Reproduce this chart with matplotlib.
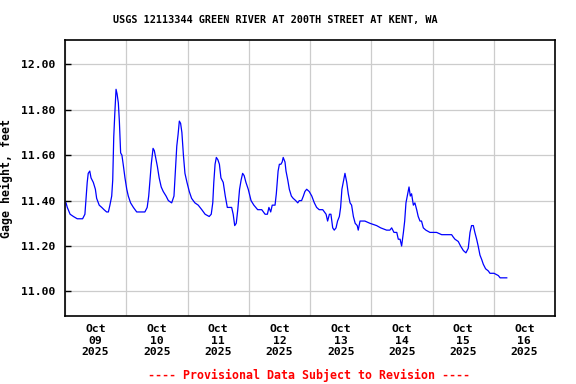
import pandas as pd
import matplotlib
matplotlib.use("Agg")
import matplotlib.pyplot as plt

# Hours since 2025-10-09 00:00 and gage height (ft)
hours = [
    0.4, 0.9, 2.0, 3.3, 4.8, 6.9, 7.8, 8.2, 8.7, 9.1, 9.7, 10.2, 11.1, 11.9, 12.4,
    13.4, 14.4, 15.3, 16.3, 17.0, 17.6, 18.3, 18.7, 19.1, 19.5, 20.0, 20.4, 20.9,
    21.3, 21.8, 22.3, 22.8, 23.5, 24.2, 24.8, 25.7, 26.8, 28.1, 31.3, 32.2, 32.8,
    33.3, 33.8, 34.5, 35.0, 35.5, 36.2, 36.9, 37.7, 38.5, 39.6, 40.5, 41.8, 42.7,
    43.2, 43.8, 44.3, 44.8, 45.3, 45.8, 46.4, 47.0, 47.8, 48.7, 49.6, 50.9, 52.2,
    53.6, 54.9, 56.5, 57.3, 57.9, 58.3, 58.8, 59.3, 59.9, 60.5, 61.1, 62.0, 62.8,
    63.6, 64.6, 65.3, 65.9, 66.5, 67.1, 67.7, 68.4, 69.0, 69.6, 70.2, 70.9, 71.8,
    72.9, 74.0, 75.5, 77.1, 78.4, 79.3, 79.9, 80.6, 81.2, 82.3, 82.8, 83.5, 84.0,
    84.6, 85.1, 85.5, 86.2, 86.6, 87.3, 87.9, 88.7, 89.4, 90.4, 91.2, 91.8, 92.7,
    93.4, 94.0, 94.7, 95.7, 96.7, 97.7, 98.6, 99.6, 101.0, 102.3, 102.9, 103.6,
    104.2, 104.9, 105.5, 106.2, 106.8, 107.5, 108.0, 108.5, 109.0, 109.7, 110.4,
    111.0, 111.7, 112.3, 113.0, 113.7, 114.5, 114.9, 115.6, 116.1, 117.5, 119.5,
    122.1, 123.7, 126.0, 127.3, 128.0, 128.9, 130.0, 130.6, 131.3, 131.9, 132.6,
    133.1, 133.6, 134.1, 134.8, 135.3, 135.8, 136.5, 137.1, 137.8, 138.4, 139.1,
    139.7, 140.4, 141.4, 143.0, 145.6, 147.6, 149.5, 151.5, 152.1, 152.8, 154.1,
    155.0, 156.1, 157.1, 158.0, 158.7, 159.3, 160.0, 160.6, 161.3, 161.9, 162.6,
    163.3, 163.9, 164.8, 165.9, 166.5, 168.1, 169.8, 170.5, 173.1,
]
gage_ft = [
    11.39, 11.37, 11.34, 11.33, 11.32, 11.32, 11.34, 11.40, 11.48, 11.52, 11.53, 11.50, 11.48, 11.45, 11.41,
    11.38, 11.37, 11.36, 11.35, 11.35, 11.38, 11.42, 11.49, 11.68, 11.78, 11.89, 11.87, 11.83,
    11.75, 11.61, 11.60, 11.56, 11.50, 11.45, 11.42, 11.39, 11.37, 11.35, 11.35, 11.37, 11.42,
    11.49, 11.56, 11.63, 11.62, 11.59, 11.55, 11.50, 11.46, 11.44, 11.42, 11.40, 11.39, 11.42,
    11.52, 11.64, 11.69, 11.75, 11.74, 11.70, 11.60, 11.52, 11.48, 11.44, 11.41, 11.39, 11.38,
    11.36, 11.34, 11.33, 11.34, 11.39, 11.48, 11.56, 11.59, 11.58, 11.56, 11.50, 11.48, 11.42,
    11.37, 11.37, 11.37, 11.34, 11.29, 11.30, 11.36, 11.45, 11.49, 11.52, 11.51, 11.48, 11.45,
    11.40, 11.38, 11.36, 11.36, 11.34, 11.34, 11.37, 11.35, 11.38, 11.38, 11.43, 11.53, 11.56,
    11.56, 11.57, 11.59, 11.57, 11.53, 11.49, 11.45, 11.42, 11.41, 11.40, 11.39, 11.40, 11.40,
    11.42, 11.44, 11.45, 11.44, 11.42, 11.39, 11.37, 11.36, 11.36, 11.34, 11.31, 11.34,
    11.34, 11.28, 11.27, 11.28, 11.31, 11.33, 11.37, 11.45, 11.48, 11.52, 11.48,
    11.43, 11.39, 11.38, 11.33, 11.30, 11.29, 11.27, 11.31, 11.31, 11.31, 11.30,
    11.29, 11.28, 11.27, 11.27, 11.28, 11.26, 11.26, 11.23, 11.23, 11.20, 11.26,
    11.31, 11.39, 11.42, 11.46, 11.42, 11.43, 11.38, 11.39, 11.36, 11.33, 11.31,
    11.31, 11.28, 11.27, 11.26, 11.26, 11.25, 11.25, 11.25, 11.24, 11.23, 11.22,
    11.20, 11.18, 11.17, 11.19, 11.26, 11.29, 11.29, 11.26, 11.23, 11.20, 11.16,
    11.14, 11.12, 11.10, 11.09, 11.08, 11.08, 11.07, 11.06, 11.06,
]

y_ticks = [11.00, 11.20, 11.40, 11.60, 11.80, 12.00]
day_labels = ["Oct\n09\n2025", "Oct\n10\n2025", "Oct\n11\n2025", "Oct\n12\n2025",
              "Oct\n13\n2025", "Oct\n14\n2025", "Oct\n15\n2025", "Oct\n16\n2025"]

plt.rcParams['font.family'] = ['DejaVu Sans Mono']
plt.rcParams['font.weight'] = 'bold'

start = pd.Timestamp("2025-10-09")
times = start + pd.to_timedelta(hours, unit="h")
midnights = pd.date_range(start, periods=len(day_labels) + 1, freq="D")
noons = midnights[:-1] + pd.Timedelta(hours=12)

fig = plt.figure(figsize=(5.76, 3.84), dpi=100)
ax = fig.add_axes([65 / 576, 1 - 316 / 384, 490 / 576, 276 / 384])

ax.plot(times, gage_ft, color="#0000ff", linewidth=0.9)

ax.set_xlim(midnights[0], midnights[-1])
ax.set_ylim(10.892, 12.107)

# gridlines at midnight, labels under the middle of each day
ax.set_xticks(midnights)
ax.set_xticklabels([])
ax.set_xticks(noons, minor=True)
ax.set_xticklabels(day_labels, minor=True, fontsize=8.2, fontweight="bold", linespacing=1.15)
ax.tick_params(axis="x", which="minor", length=0, pad=6)
ax.tick_params(axis="x", which="major", length=0)

ax.set_yticks(y_ticks)
ax.set_yticklabels(["%.2f" % v for v in y_ticks], fontsize=8.2, fontweight="bold")
ax.tick_params(axis="y", direction="in", length=4, width=1, pad=7)

ax.grid(True, which="major", color="#cccccc", linewidth=0.9)
ax.set_axisbelow(True)
for s in ax.spines.values():
    s.set_linewidth(1.2)
    s.set_color("black")

ax.set_ylabel("Gage height, feet", fontsize=8.4, fontweight="bold", labelpad=6)

fig.text(275.5 / 576, 1 - 20 / 384, "USGS 12113344 GREEN RIVER AT 200TH STREET AT KENT, WA",
         ha="center", va="center", fontsize=7.3, fontweight="bold")
fig.text(309 / 576, 1 - 375 / 384, "---- Provisional Data Subject to Revision ----",
         ha="center", va="center", fontsize=8.4, fontweight="bold", color="red")

fig.savefig("out.png", dpi=100)
